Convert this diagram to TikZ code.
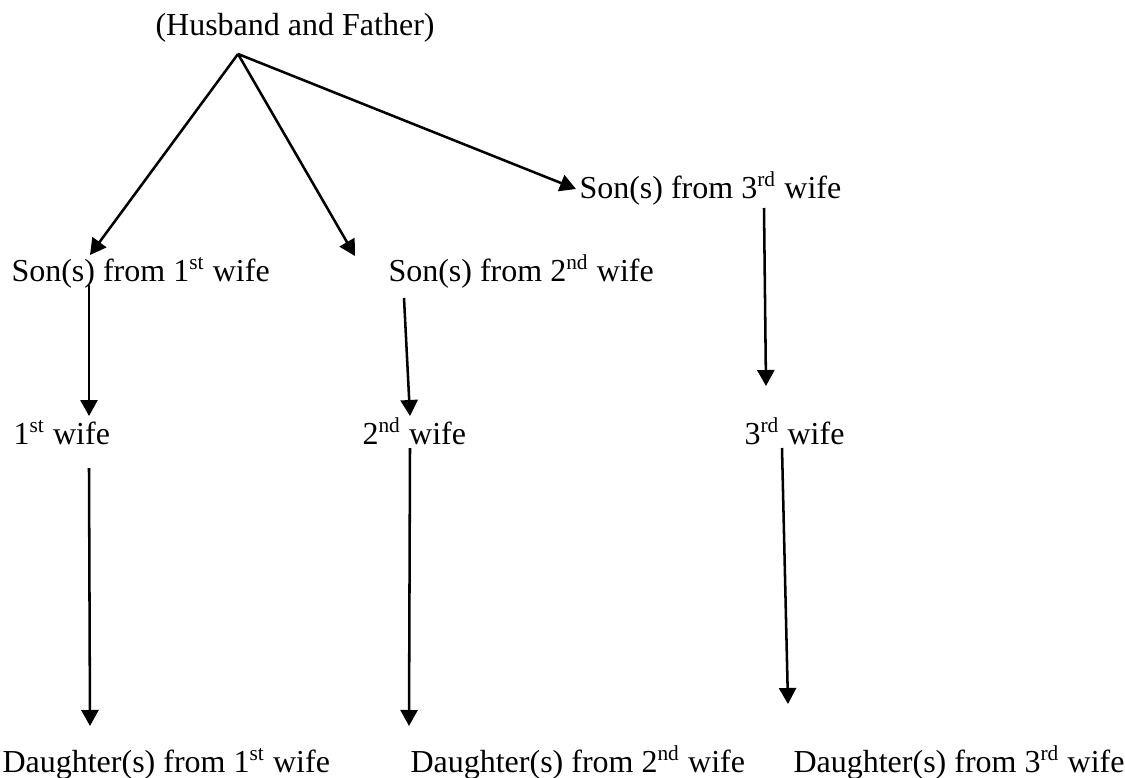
\documentclass[tikz,border=0pt]{standalone}
\usepackage{fontspec}
\setmainfont{Liberation Serif}
\usetikzlibrary{arrows.meta}

\begin{document}
\begin{tikzpicture}[x=0.375pt,y=-0.375pt,
  lbl/.style={anchor=base west,inner sep=0pt,font=\fontsize{12}{14}\selectfont},
  arr/.style={line width=0.95pt,-{Triangle[length=6pt,width=6.4pt]}}]
  \useasboundingbox (0,0) rectangle (1125,778);

  % husband and father
  \node[lbl] (father) at (155,35) {(Husband and Father)};
  \path (238,54) coordinate (f0);

  % sons
  \node[lbl] (son1) at (11,281) {Son(s) from 1\textsuperscript{st} wife};
  \node[lbl] (son2) at (388,281) {Son(s) from 2\textsuperscript{nd} wife};
  \node[lbl] (son3) at (579,198) {Son(s) from 3\textsuperscript{rd} wife};
  \path
  (90,255) coordinate (s1in)
  (355,256) coordinate (s2in)
  (576,189) coordinate (s3in)
  (89,285) coordinate (s1out)
  (404,298) coordinate (s2out)
  (764,208) coordinate (s3out);
  \draw[arr] (f0) -- (s1in);
  \draw[arr] (f0) -- (s2in);
  \draw[arr] (f0) -- (s3in);

  % wives
  \node[lbl] (wife1) at (13,444) {1\textsuperscript{st} wife};
  \node[lbl] (wife2) at (362,444) {2\textsuperscript{nd} wife};
  \node[lbl] (wife3) at (744,444) {3\textsuperscript{rd} wife};
  \path
  (89,416) coordinate (w1in)
  (410,416) coordinate (w2in)
  (766,386) coordinate (w3in)
  (89,468) coordinate (w1out)
  (410,448) coordinate (w2out)
  (782,448) coordinate (w3out);
  \draw[arr] (s1out) -- (w1in);
  \draw[arr] (s2out) -- (w2in);
  \draw[arr] (s3out) -- (w3in);

  % daughters
  \node[lbl] (dau1) at (2,772) {Daughter(s) from 1\textsuperscript{st} wife};
  \node[lbl] (dau2) at (410,772) {Daughter(s) from 2\textsuperscript{nd} wife};
  \node[lbl] (dau3) at (793,772) {Daughter(s) from 3\textsuperscript{rd} wife};
  \path
  (90,726) coordinate (d1in)
  (409,726) coordinate (d2in)
  (788,704) coordinate (d3in);
  \draw[arr] (w1out) -- (d1in);
  \draw[arr] (w2out) -- (d2in);
  \draw[arr] (w3out) -- (d3in);

\end{tikzpicture}
\end{document}
